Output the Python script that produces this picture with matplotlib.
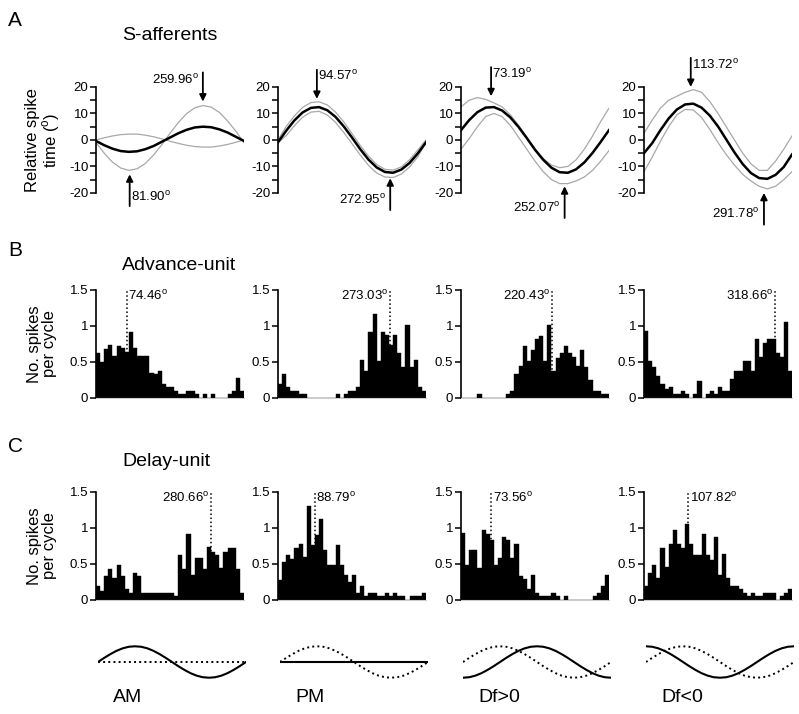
import numpy as np
import matplotlib
matplotlib.use('Agg')
import matplotlib.pyplot as plt

plt.rcParams['font.family'] = ['Liberation Sans', 'DejaVu Sans']
plt.rcParams['mathtext.fontset'] = 'custom'
plt.rcParams['mathtext.rm'] = 'Liberation Sans'
plt.rcParams['axes.unicode_minus'] = False

# phase (deg) at which the fitted curves of row A were read
phase = np.arange(0, 361, 20)

# S-afferents: mean fit (black) and the two grey bounds, per stimulus
am_mean = [-0.4, -2.0, -3.3, -4.2, -4.5, -4.3, -3.5, -2.3, -0.7, 0.9, 2.5, 3.8, 4.7, 5.0, 4.8, 4.0, 2.8, 1.2, -0.4]
am_gray1 = [-1.0, -5.0, -8.4, -10.6, -11.5, -10.9, -8.9, -5.7, -1.8, 2.5, 6.5, 9.9, 12.1, 13.0, 12.4, 10.4, 7.2, 3.3, -1.0]
am_gray2 = [0.0, 0.8, 1.5, 2.0, 2.2, 2.2, 1.8, 1.2, 0.4, -0.5, -1.3, -2.0, -2.5, -2.7, -2.7, -2.3, -1.7, -0.9, 0.0]

pm_mean = [-0.9, 3.5, 7.4, 10.4, 12.1, 12.4, 11.2, 8.7, 5.1, 0.9, -3.5, -7.4, -10.4, -12.1, -12.4, -11.2, -8.7, -5.1, -0.9]
pm_gray1 = [0.0, 5.1, 9.1, 12.3, 14.1, 14.4, 13.2, 10.5, 6.8, 2.4, -2.1, -6.1, -9.3, -11.1, -11.4, -10.2, -7.5, -3.8, 0.0]
pm_gray2 = [-1.0, 1.6, 5.4, 8.6, 10.5, 10.8, 9.4, 6.6, 2.8, -1.4, -5.7, -9.6, -12.5, -14.0, -14.2, -12.9, -10.2, -6.4, -1.0]

dfp_mean = [3.7, 7.5, 10.5, 12.2, 12.4, 11.1, 8.5, 4.9, 0.7, -3.7, -7.5, -10.5, -12.2, -12.4, -11.1, -8.5, -4.9, -0.7, 3.7]
dfp_gray1 = [12.5, 15.0, 16.0, 15.3, 14.0, 12.5, 9.5, 5.5, 1.0, -3.5, -7.0, -9.5, -10.5, -10.0, -7.5, -3.5, 1.5, 7.0, 12.0]
dfp_gray2 = [-3.5, 0.5, 5.0, 8.8, 10.0, 8.8, 5.5, 1.0, -3.5, -8.0, -12.0, -15.0, -16.5, -16.5, -15.5, -14.0, -11.5, -8.0, -4.0]

dfn_mean = [-5.0, -1.2, 3.7, 8.1, 11.5, 13.4, 13.7, 12.2, 9.2, 5.1, 0.2, -4.7, -9.1, -12.5, -14.4, -14.7, -13.2, -10.2, -5.5]
dfn_gray1 = [2.5, 7.5, 12.0, 15.0, 16.5, 18.0, 19.0, 18.0, 14.5, 10.0, 5.0, 0.0, -5.0, -9.0, -11.5, -11.5, -8.0, -3.5, 1.5]
dfn_gray2 = [-12.0, -6.5, -0.5, 5.0, 9.5, 11.5, 11.3, 8.5, 4.0, -1.0, -5.5, -9.5, -13.0, -15.5, -17.5, -18.5, -17.5, -15.0, -12.0]

# peak / trough phases marked with arrows in row A
peak_phase = [259.96, 94.57, 73.19, 113.72]
trough_phase = [81.90, 272.95, 252.07, 291.78]

# histograms: spikes per cycle in 36 bins of 10 deg
bin_centers = np.arange(5, 360, 10)
adv_am = [0.63, 0.5, 0.68, 0.73, 0.58, 0.72, 0.69, 0.64, 0.92, 0.7, 0.58, 0.58, 0.58, 0.35, 0.33, 0.38, 0.2, 0.15,
          0.15, 0.1, 0.05, 0.05, 0.1, 0.1, 0.05, 0.0, 0.05, 0.0, 0.05, 0.0, 0.0, 0.0, 0.05, 0.1, 0.28, 0.1]
adv_pm = [0.2, 0.33, 0.15, 0.1, 0.1, 0.05, 0.05, 0.0, 0.0, 0.0, 0.0, 0.0, 0.0, 0.0, 0.05, 0.0, 0.05, 0.1,
          0.1, 0.15, 0.53, 0.38, 0.92, 1.16, 0.52, 0.92, 0.87, 0.74, 0.87, 0.63, 0.43, 1.02, 0.43, 0.53, 0.15, 0.1]
adv_dfp = [0, 0, 0, 0, 0.05, 0, 0, 0, 0, 0, 0, 0.05, 0.1, 0.33, 0.45, 0.72, 0.52, 0.67,
           0.82, 0.86, 0.52, 1.02, 0.38, 0.55, 0.63, 0.72, 0.63, 0.57, 0.45, 0.67, 0.43, 0.25, 0.1, 0.1, 0.05, 0.05]
adv_dfn = [0.93, 0.52, 0.43, 0.3, 0.2, 0.12, 0.15, 0.05, 0.05, 0.1, 0.05, 0.0, 0.05, 0.24, 0.0, 0.05, 0.1, 0.05,
           0.15, 0.1, 0.1, 0.27, 0.38, 0.38, 0.52, 0.52, 0.38, 0.82, 0.57, 0.76, 0.82, 0.82, 0.63, 0.57, 1.06, 0.38]
del_am = [0.2, 0.12, 0.34, 0.43, 0.3, 0.48, 0.34, 0.15, 0.1, 0.38, 0.34, 0.1, 0.1, 0.1, 0.1, 0.1, 0.1, 0.1,
          0.1, 0.05, 0.63, 0.43, 0.92, 0.35, 0.58, 0.58, 0.43, 0.73, 0.67, 0.63, 0.45, 0.67, 0.72, 0.72, 0.43, 0.1]
del_pm = [0.28, 0.53, 0.62, 0.57, 0.72, 0.78, 0.6, 1.31, 0.77, 0.9, 1.12, 0.7, 0.48, 0.48, 0.77, 0.48, 0.35, 0.25,
          0.35, 0.1, 0.2, 0.05, 0.1, 0.1, 0.05, 0.05, 0.1, 0.05, 0.1, 0.05, 0.05, 0.0, 0.05, 0.05, 0.05, 0.1]
del_dfp = [0.93, 0.49, 0.69, 0.69, 0.45, 0.97, 0.91, 0.83, 0.49, 0.58, 0.88, 0.83, 0.59, 0.78, 0.34, 0.29, 0.15, 0.35,
           0.1, 0.05, 0.05, 0.05, 0.1, 0.05, 0.0, 0.05, 0.0, 0.0, 0.0, 0.0, 0.0, 0.0, 0.05, 0.1, 0.2, 0.35]
del_dfn = [0.2, 0.38, 0.48, 0.3, 0.72, 0.46, 0.78, 0.97, 0.78, 0.72, 1.06, 0.78, 0.63, 0.63, 0.92, 0.63, 0.55, 0.87,
           0.35, 0.64, 0.3, 0.2, 0.2, 0.15, 0.1, 0.05, 0.1, 0.05, 0.05, 0.1, 0.1, 0.1, 0.0, 0.05, 0.1, 0.15]
adv_peak = [74.46, 273.03, 220.43, 318.66]
del_peak = [280.66, 88.79, 73.56, 107.82]

# stimulus schematic, one cycle sampled every 15 deg
icon_phase = np.arange(0, 361, 15)
wave = [0, 0.26, 0.5, 0.71, 0.87, 0.97, 1, 0.97, 0.87, 0.71, 0.5, 0.26, 0,
        -0.26, -0.5, -0.71, -0.87, -0.97, -1, -0.97, -0.87, -0.71, -0.5, -0.26, 0]
stim_names = ['AM', 'PM', 'Df>0', 'Df<0']

W, H = 799.0, 714.0
lefts = [96, 278, 461, 644]
DEG = r'$^{\rm o}$'


def box(left, top, bottom, width=148):
    return [left / W, 1 - bottom / H, width / W, (bottom - top) / H]


def style(ax):
    for s in ['top', 'right']:
        ax.spines[s].set_visible(False)
    ax.spines['left'].set_linewidth(1.2)
    ax.tick_params(axis='y', which='both', direction='out', length=4, width=1.1, labelsize=9.5, pad=1.5)
    ax.set_xlim(0, 360)


fig = plt.figure(figsize=(7.99, 7.14), dpi=100)

# ---- row A: sinusoid fits ----
curves = [(am_mean, am_gray1, am_gray2), (pm_mean, pm_gray1, pm_gray2),
          (dfp_mean, dfp_gray1, dfp_gray2), (dfn_mean, dfn_gray1, dfn_gray2)]
peak_tip = [14.5, 15.5, 16.5, 20]
trough_tip = [-13, -14.5, -17.5, -20]
dx = 10
for i, (mean, g1, g2) in enumerate(curves):
    ax = fig.add_axes(box(lefts[i], 60.5, 222))
    style(ax)
    ax.spines['bottom'].set_visible(False)
    ax.spines['left'].set_bounds(-20, 20)
    ax.set_ylim(-31, 30)
    ax.set_xticks([])
    ax.set_yticks([-20, -10, 0, 10, 20])
    ax.set_yticks([-15, -5, 5, 15], minor=True)
    ax.plot(phase, g1, color='#a8a8a8', lw=0.9)
    ax.plot(phase, g2, color='#a8a8a8', lw=0.9)
    ax.plot(phase, mean, color='black', lw=1.8)
    aprops = dict(arrowstyle='-|>', color='black', lw=1.3, mutation_scale=10, shrinkA=0, shrinkB=0)
    # down arrow at peak
    p = peak_phase[i]
    ax.annotate('', xy=(p, peak_tip[i]), xytext=(p, peak_tip[i] + 11), arrowprops=aprops, annotation_clip=False)
    # up arrow at trough
    t = trough_phase[i]
    ax.annotate('', xy=(t, trough_tip[i]), xytext=(t, trough_tip[i] - 12), arrowprops=aprops, annotation_clip=False)
    if i == 0:
        ax.text(p - dx, peak_tip[i] + 8, '%.2f' % p + DEG, ha='right', va='center', fontsize=9.5)
        ax.text(t + 3, trough_tip[i] - 8.5, '%.2f' % t + DEG, ha='left', va='center', fontsize=9.5)
        ax.set_ylabel('Relative spike\ntime (' + DEG + ')', fontsize=12, linespacing=1.0)
        ax.yaxis.set_label_coords(-0.23, 0.508)
    else:
        ax.text(p + 3, peak_tip[i] + 8.5, '%.2f' % p + DEG, ha='left', va='center', fontsize=9.5)
        ax.text(t - dx, trough_tip[i] - 8, '%.2f' % t + DEG, ha='right', va='center', fontsize=9.5)

# ---- rows B and C: spike histograms ----
rows = [([adv_am, adv_pm, adv_dfp, adv_dfn], adv_peak, 290, 398),
        ([del_am, del_pm, del_dfp, del_dfn], del_peak, 492, 600)]
label_side = [['r', 'l', 'l', 'l'], ['l', 'r', 'r', 'r']]
for r, (hists, peaks, top, bottom) in enumerate(rows):
    for i in range(4):
        ax = fig.add_axes(box(lefts[i], top, bottom))
        style(ax)
        ax.spines['bottom'].set_color('#cccccc')
        ax.spines['bottom'].set_linewidth(0.8)
        ax.set_xticks([])
        ax.set_ylim(0, 1.5)
        ax.set_yticks([0, 0.5, 1, 1.5])
        ax.set_yticklabels(['0', '0.5', '1', '1.5'])
        ax.bar(bin_centers, hists[i], width=10, color='black', edgecolor='black', linewidth=0.3)
        pk = peaks[i]
        ax.plot([pk, pk], [0, 1.5], color='black', lw=1.1, ls=':', clip_on=False)
        if label_side[r][i] == 'r':
            ax.text(pk + 4, 1.42, '%.2f' % pk + DEG, ha='left', va='center', fontsize=9.5)
        else:
            ax.text(pk - 4, 1.42, '%.2f' % pk + DEG, ha='right', va='center', fontsize=9.5)
        if i == 0:
            ax.set_ylabel('No. spikes\nper cycle', fontsize=12, linespacing=1.0)
            ax.yaxis.set_label_coords(-0.264, 0.5)

# ---- bottom: stimulus schematics ----
wave_arr = np.array(wave)
cos_arr = np.append(np.roll(wave_arr[:-1], -6), wave_arr[6])
flat = np.zeros_like(wave_arr)
solid = [wave_arr, flat, -cos_arr, cos_arr]
dotted = [flat, wave_arr, wave_arr, wave_arr]
for i in range(4):
    ax = fig.add_axes(box(lefts[i] + 2, 640, 684))
    ax.axis('off')
    ax.set_xlim(0, 360)
    ax.set_ylim(-1.4, 1.4)
    ax.plot(icon_phase, dotted[i], color='black', lw=1.4, ls=':')
    ax.plot(icon_phase, solid[i], color='black', lw=1.5)
    fig.text((lefts[i] + 17) / W, 1 - 698 / H, stim_names[i], fontsize=14, ha='left', va='center')

# panel letters and row titles
for letter, ly, title, ty in [('A', 20, 'S-afferents', 35), ('B', 250, 'Advance-unit', 266),
                              ('C', 446, 'Delay-unit', 462)]:
    fig.text(8 / W, 1 - ly / H, letter, fontsize=15, ha='left', va='center')
    fig.text(122 / W, 1 - ty / H, title, fontsize=14, ha='left', va='center')

fig.savefig('out.png', dpi=100)
